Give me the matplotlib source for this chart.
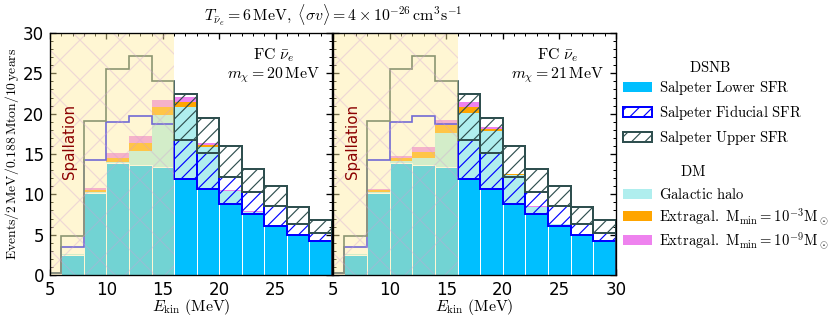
import matplotlib
matplotlib.use('Agg')
import matplotlib.pyplot as plt
import numpy as np
from matplotlib.patches import Patch
from matplotlib.ticker import MultipleLocator

plt.rcParams['mathtext.fontset'] = 'cm'
plt.rcParams['hatch.linewidth'] = 0.7

# ---------------- data ----------------
bin_edges = [4, 6, 8, 10, 12, 14, 16, 18, 20, 22, 24, 26, 28, 30]

dsnb_lower = [0.15, 2.5, 10.2, 13.9, 13.65, 13.35, 11.9, 10.6, 8.77, 7.55, 6.1, 4.96, 4.2]
dsnb_fid = [0.2, 3.45, 14.28, 19.0, 19.65, 18.7, 16.7, 15.08, 12.1, 10.3, 8.55, 6.32, 5.25]
dsnb_upper = [0.25, 4.8, 19.15, 25.5, 27.2, 24.1, 22.45, 19.5, 16.03, 13.1, 11.07, 8.47, 6.82]

halo_m20 = [0.0, 0.05, 0.1, 0.07, 1.77, 6.45, 8.9, 5.3, 1.6, 0.3, 0.1, 0.05, 0.03]
extra3_m20 = [0.0, 0.04, 0.25, 0.55, 0.9, 0.98, 0.65, 0.25, 0.08, 0.02, 0.0, 0.0, 0.0]
extra9_m20 = [0.0, 0.06, 0.2, 0.6, 0.85, 0.92, 0.65, 0.25, 0.08, 0.02, 0.0, 0.0, 0.0]

halo_m21 = [0.0, 0.05, 0.05, 0.25, 0.82, 4.2, 8.14, 7.23, 3.6, 0.9, 0.2, 0.05, 0.03]
extra3_m21 = [0.0, 0.04, 0.25, 0.35, 0.74, 1.05, 0.83, 0.25, 0.1, 0.03, 0.0, 0.0, 0.0]
extra9_m21 = [0.0, 0.06, 0.2, 0.3, 0.7, 0.6, 0.54, 0.25, 0.1, 0.03, 0.0, 0.0, 0.0]

masses = [20, 21]
spallation_range = [5, 16]

dsnb_labels = [r'$\mathrm{Salpeter\ Lower\ SFR}$',
               r'$\mathrm{Salpeter\ Fiducial\ SFR}$',
               r'$\mathrm{Salpeter\ Upper\ SFR}$']
dm_labels = [r'$\mathrm{Galactic\ halo}$',
             r'$\mathrm{Extragal.\ M_{min}=10^{-3}M_\odot}$',
             r'$\mathrm{Extragal.\ M_{min}=10^{-9}M_\odot}$']

# ---------------- figure ----------------
DPI = 120
fig = plt.figure(figsize=(830 / DPI, 322 / DPI), dpi=DPI)
axL = fig.add_axes([50 / 830, 47 / 322, 282 / 830, 242 / 322])
axR = fig.add_axes([333 / 830, 47 / 322, 283 / 830, 242 / 322])

c_lower = 'deepskyblue'
c_fid = 'blue'
c_up = 'darkslategray'
c_halo = 'paleturquoise'
c_e3 = 'orange'
c_e9 = 'violet'


def draw_panel(ax, halo, e3, e9, mass):
    e = np.array(bin_edges, dtype=float)
    left = e[:-1]
    w = np.diff(e)
    lo = np.array(dsnb_lower)
    fid = np.array(dsnb_fid)
    up = np.array(dsnb_upper)
    halo = np.array(halo)
    e3 = np.array(e3)
    e9 = np.array(e9)

    # DM stacked on top of the lower DSNB
    ax.bar(left, halo, w, bottom=lo, align='edge', color=c_halo, lw=0, zorder=1)
    ax.bar(left, e3, w, bottom=lo + halo, align='edge', color=c_e3, lw=0, zorder=1)
    ax.bar(left, e9, w, bottom=lo + halo + e3, align='edge', color=c_e9, lw=0, zorder=1)

    # DSNB lower
    ax.bar(left, lo, w, align='edge', color=c_lower, edgecolor='white', lw=0.6, zorder=2)

    # hatched boxes outside spallation region
    m = left >= spallation_range[1]
    ax.bar(left[m], (fid - lo)[m], w[m], bottom=lo[m], align='edge',
           facecolor='none', edgecolor=c_fid, hatch='///', lw=1.2, zorder=3)
    ax.bar(left[m], (up - fid)[m], w[m], bottom=fid[m], align='edge',
           facecolor='none', edgecolor=c_up, hatch='///', lw=1.2, zorder=4)

    # step outlines
    ax.stairs(fid, e, color=c_fid, lw=1.0, zorder=3.5, baseline=0)
    ax.stairs(up, e, color=c_up, lw=1.0, zorder=4.5, baseline=0)

    # spallation overlay
    ax.axvspan(spallation_range[0], spallation_range[1],
               facecolor=(1.0, 0.93, 0.62, 0.45),
               edgecolor=(0.82, 0.62, 0.85, 0.35), hatch='x', lw=0, zorder=6)
    ax.text(6.7, 16.5, 'Spallation', rotation=90, ha='center', va='center',
            color='darkred', fontsize=9, zorder=7)

    ax.text(0.957, 0.945,
            r'$\mathrm{FC}\ \bar{\nu}_e$' + '\n' + r'$m_\chi=%d\,\mathrm{MeV}$' % mass,
            transform=ax.transAxes, ha='right', va='top', multialignment='center',
            fontsize=9.5, linespacing=1.12, zorder=8)

    ax.set_xlim(5, 30)
    ax.set_ylim(0, 30)
    ax.xaxis.set_major_locator(MultipleLocator(5))
    ax.xaxis.set_minor_locator(MultipleLocator(1))
    ax.yaxis.set_major_locator(MultipleLocator(5))
    ax.yaxis.set_minor_locator(MultipleLocator(1))
    ax.tick_params(which='both', direction='in', top=True, right=True, labelsize=10)
    ax.tick_params(which='major', length=3.5, width=0.8)
    ax.tick_params(which='minor', length=2, width=0.6)
    ax.set_xlabel(r'$E_\mathrm{kin}\ \mathrm{(MeV)}$', fontsize=9.5, labelpad=-1)
    for s in ax.spines.values():
        s.set_zorder(10)


draw_panel(axL, halo_m20, extra3_m20, extra9_m20, masses[0])
draw_panel(axR, halo_m21, extra3_m21, extra9_m21, masses[1])

axL.set_xticks([5, 10, 15, 20, 25, 30])
axL.set_xticklabels(['5', '10', '15', '20', '25', ''])
axR.tick_params(labelleft=False)
axL.set_ylabel(r'$\mathrm{Events/2\,MeV/0.188\,Mton/10\,years}$', fontsize=8.2, labelpad=1)

fig.text(333 / 830, 1 - 15 / 322,
         r'$T_{\bar{\nu}_e}=6\,\mathrm{MeV},\ \langle\sigma v\rangle=4\times10^{-26}\,\mathrm{cm^3s^{-1}}$',
         ha='center', va='center', fontsize=9.5)

# legends
h1 = [Patch(facecolor=c_lower, edgecolor=c_lower, lw=0),
      Patch(facecolor='white', edgecolor=c_fid, hatch='///', lw=1.2),
      Patch(facecolor='white', edgecolor=c_up, hatch='///', lw=1.2)]
h2 = [Patch(facecolor=c_halo, lw=0), Patch(facecolor=c_e3, lw=0), Patch(facecolor=c_e9, lw=0)]

fig.legend(h1, dsnb_labels, loc='upper left', bbox_to_anchor=(0.75, 0.755), frameon=False,
           fontsize=8.8, handlelength=2.0, handleheight=0.7, handletextpad=0.5,
           labelspacing=0.45, borderpad=0, borderaxespad=0)
fig.legend(h2, dm_labels, loc='upper left', bbox_to_anchor=(0.75, 0.418), frameon=False,
           fontsize=8.8, handlelength=2.0, handleheight=0.7, handletextpad=0.5,
           labelspacing=0.25, borderpad=0, borderaxespad=0)
fig.text(710 / 830, 1 - 68 / 322, r'$\mathrm{DSNB}$', ha='center', va='center', fontsize=8.8)
fig.text(693 / 830, 1 - 172 / 322, r'$\mathrm{DM}$', ha='center', va='center', fontsize=8.8)

fig.savefig('out.png', dpi=DPI)
